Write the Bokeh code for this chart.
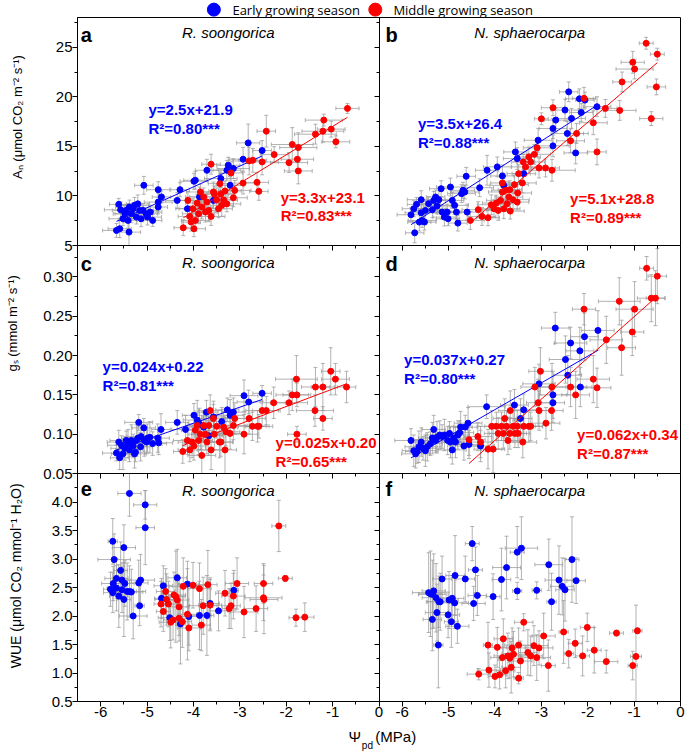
import numpy as np
from bokeh.plotting import figure
from bokeh.models import (ColumnDataSource, Whisker, TeeHead, Range1d, LinearAxis,
                          FixedTicker, NumeralTickFormatter)
from bokeh.layouts import column
from bokeh.embed import file_html
from bokeh.resources import INLINE
from bokeh.core.properties import value

# ---------------- data: (psi_pd, value, x-error, y-error) ----------------
an_rs_early = [
    (-5.66, 6.52, 0.30, 0.7), (-5.59, 6.69, 0.25, 0.9), (-5.61, 9.15, 0.20, 0.6), (-5.57, 8.60, 0.35, 0.8),
    (-5.52, 7.70, 0.30, 0.7), (-5.48, 8.20, 0.25, 0.9), (-5.45, 8.54, 0.30, 0.6), (-5.41, 7.53, 0.20, 0.8),
    (-5.39, 6.35, 0.25, 1.4), (-5.38, 8.88, 0.30, 0.7), (-5.34, 8.20, 0.35, 0.9), (-5.30, 8.70, 0.25, 0.6),
    (-5.27, 9.05, 0.30, 0.8), (-5.23, 7.87, 0.20, 0.7), (-5.20, 9.20, 0.25, 0.9), (-5.16, 8.54, 0.30, 0.6),
    (-5.13, 7.70, 0.25, 0.8), (-5.07, 11.07, 0.20, 0.9), (-5.09, 8.54, 0.30, 0.7), (-5.02, 8.20, 0.25, 0.6),
    (-4.99, 7.87, 0.30, 0.8), (-4.93, 8.37, 0.25, 0.7), (-4.88, 7.53, 0.20, 0.6), (-4.76, 10.63, 0.25, 0.8),
    (-4.76, 8.88, 0.20, 0.7), (-4.76, 9.38, 0.30, 0.9), (-4.69, 9.90, 0.20, 0.6), (-4.35, 9.55, 0.25, 0.8),
    (-4.29, 10.63, 0.20, 0.7), (-4.13, 8.71, 0.25, 0.9), (-3.99, 11.48, 0.30, 0.8), (-3.96, 11.58, 0.25, 0.9),
    (-3.87, 9.90, 0.30, 1.0), (-3.71, 12.59, 0.25, 1.1), (-3.57, 9.55, 0.30, 0.8), (-3.41, 11.75, 0.35, 0.9),
    (-3.28, 12.59, 0.30, 1.0), (-3.25, 13.10, 0.25, 0.8), (-3.21, 11.07, 0.30, 0.9), (-3.14, 12.76, 0.35, 1.0),
    (-2.93, 13.70, 0.30, 1.2), (-2.82, 15.35, 0.25, 1.9), (-2.52, 14.58, 0.20, 1.0),
]
an_rs_middle = [
    (-4.22, 6.79, 0.20, 0.8), (-4.12, 9.55, 0.30, 0.9), (-4.08, 7.93, 0.25, 0.7), (-4.05, 7.36, 0.20, 0.9),
    (-4.01, 8.71, 0.30, 1.0), (-3.99, 6.69, 0.25, 0.8), (-3.96, 7.53, 0.30, 1.1), (-3.92, 9.28, 0.25, 0.9),
    (-3.89, 8.20, 0.35, 1.0), (-3.85, 10.40, 0.30, 0.8), (-3.82, 8.88, 0.25, 1.2), (-3.78, 9.90, 0.30, 0.9),
    (-3.74, 8.37, 0.25, 1.0), (-3.71, 9.38, 0.30, 0.8), (-3.67, 8.54, 0.25, 1.1), (-3.62, 13.20, 0.20, 1.0),
    (-3.62, 7.93, 0.30, 0.9), (-3.57, 10.40, 0.25, 1.0), (-3.55, 10.20, 0.30, 0.8), (-3.50, 9.60, 0.35, 1.2),
    (-3.46, 8.71, 0.30, 0.9), (-3.43, 11.24, 0.25, 1.0), (-3.41, 10.20, 0.30, 0.8), (-3.39, 9.05, 0.25, 1.1),
    (-3.35, 9.60, 0.30, 0.9), (-3.32, 10.50, 0.35, 1.0), (-3.28, 9.20, 0.30, 0.8), (-3.19, 12.32, 0.25, 1.2),
    (-3.14, 9.82, 0.30, 0.9), (-3.11, 10.56, 0.35, 1.0), (-2.93, 11.30, 0.30, 1.1), (-2.80, 13.53, 0.35, 1.4),
    (-2.72, 13.60, 0.30, 1.2), (-2.63, 11.37, 0.25, 1.0), (-2.59, 10.46, 0.20, 0.9), (-2.52, 13.43, 0.35, 1.3),
    (-2.43, 16.53, 0.20, 1.6), (-2.26, 14.17, 0.30, 0.8), (-1.94, 13.36, 0.40, 1.0), (-1.87, 15.19, 0.45, 1.7),
    (-1.76, 13.70, 0.35, 1.2), (-1.74, 14.88, 0.40, 1.5), (-1.74, 12.52, 0.30, 1.3), (-1.37, 16.23, 0.45, 1.0),
    (-1.19, 17.65, 0.40, 0.6), (-1.21, 16.53, 0.45, 1.1), (-1.03, 16.74, 0.30, 0.8), (-0.93, 15.46, 0.30, 0.6),
    (-0.68, 18.83, 0.25, 0.5),
]
an_ns_early = [
    (-5.73, 6.28, 0.20, 1.0), (-5.81, 8.10, 0.30, 0.7), (-5.75, 8.71, 0.25, 0.8), (-5.69, 9.15, 0.20, 0.7),
    (-5.59, 9.62, 0.30, 0.9), (-5.59, 8.30, 0.35, 0.8), (-5.63, 7.36, 0.25, 0.9), (-5.57, 7.53, 0.30, 0.7),
    (-5.52, 7.36, 0.25, 0.8), (-5.50, 8.54, 0.30, 0.9), (-5.43, 9.22, 0.25, 0.7), (-5.35, 8.61, 0.30, 0.8),
    (-5.32, 9.55, 0.25, 0.9), (-5.28, 9.89, 0.20, 0.7), (-5.25, 8.98, 0.30, 0.8), (-5.21, 9.62, 0.25, 0.9),
    (-5.16, 10.73, 0.25, 0.8), (-5.14, 8.37, 0.30, 0.7), (-5.09, 7.87, 0.25, 0.9), (-5.03, 8.37, 0.30, 0.8),
    (-5.01, 7.70, 0.25, 0.7), (-4.96, 10.90, 0.30, 0.9), (-4.92, 9.55, 0.25, 0.8), (-4.87, 9.05, 0.30, 0.9),
    (-4.83, 8.37, 0.25, 0.7), (-4.80, 7.26, 0.20, 0.8), (-4.72, 10.23, 0.30, 0.9), (-4.69, 10.57, 0.25, 0.8),
    (-4.65, 10.40, 0.30, 0.7), (-4.62, 11.98, 0.20, 0.9), (-4.60, 8.37, 0.35, 0.8), (-4.33, 10.83, 0.30, 0.9),
    (-4.17, 12.59, 0.25, 1.5), (-3.95, 12.93, 0.30, 1.0), (-3.84, 12.02, 0.25, 1.1), (-3.81, 11.07, 0.30, 0.9),
    (-3.56, 14.44, 0.25, 1.0), (-3.52, 13.77, 0.30, 1.1), (-3.38, 12.25, 0.25, 1.0), (-3.07, 15.62, 0.30, 1.2),
    (-2.75, 15.05, 0.35, 1.1), (-2.75, 16.80, 0.30, 1.0), (-2.69, 17.65, 0.25, 1.2), (-2.49, 18.66, 0.30, 1.1),
    (-2.41, 20.50, 0.20, 1.0), (-2.44, 16.30, 0.35, 1.2), (-2.35, 17.82, 0.30, 1.0), (-2.26, 14.34, 0.25, 1.1),
    (-2.18, 19.80, 0.30, 1.0), (-2.14, 18.42, 0.25, 0.9), (-2.06, 19.67, 0.20, 0.8), (-1.80, 19.00, 0.30, 1.0),
]
an_ns_middle = [
    (-4.53, 7.53, 0.30, 0.9), (-4.36, 8.61, 0.35, 0.8), (-4.28, 7.93, 0.30, 0.9), (-4.15, 7.80, 0.25, 0.8),
    (-4.08, 9.11, 0.30, 1.0), (-4.02, 8.71, 0.35, 0.9), (-3.97, 9.28, 0.30, 0.8), (-3.93, 8.54, 0.25, 1.0),
    (-3.88, 9.55, 0.30, 0.9), (-3.84, 11.31, 0.25, 1.0), (-3.84, 10.40, 0.30, 0.8), (-3.81, 8.71, 0.35, 1.0),
    (-3.77, 10.57, 0.30, 0.9), (-3.74, 9.22, 0.25, 0.8), (-3.70, 9.89, 0.30, 1.0), (-3.68, 10.63, 0.25, 0.9),
    (-3.67, 8.47, 0.30, 0.8), (-3.61, 9.62, 0.35, 1.0), (-3.58, 11.14, 0.30, 0.9), (-3.52, 9.38, 0.25, 0.8),
    (-3.51, 10.30, 0.30, 1.0), (-3.49, 12.25, 0.25, 0.9), (-3.41, 11.31, 0.30, 1.0), (-3.39, 13.43, 0.25, 0.8),
    (-3.34, 12.93, 0.30, 0.9), (-3.27, 13.94, 0.25, 1.0), (-3.23, 13.43, 0.30, 0.8), (-3.15, 14.20, 0.35, 1.0),
    (-3.09, 14.85, 0.30, 0.9), (-3.05, 12.82, 0.35, 1.0), (-2.91, 12.82, 0.30, 0.9), (-2.77, 12.59, 0.50, 1.1),
    (-2.75, 18.90, 0.25, 0.8), (-3.00, 17.78, 0.15, 0.6), (-2.37, 15.56, 0.30, 1.2), (-2.24, 16.30, 0.25, 1.0),
    (-2.08, 19.85, 0.25, 1.1), (-1.88, 17.38, 0.30, 1.2), (-1.80, 14.44, 0.20, 1.3), (-1.62, 18.83, 0.25, 0.9),
    (-1.31, 18.63, 0.35, 1.0), (-1.26, 21.50, 0.20, 1.0), (-1.03, 23.48, 0.25, 1.1), (-0.99, 22.80, 0.40, 1.0),
    (-0.74, 25.40, 0.15, 0.6), (-0.63, 17.80, 0.25, 0.7), (-0.52, 21.00, 0.20, 0.8), (-0.50, 24.30, 0.15, 0.6),
]
gs_rs_early = [
    (-5.66, 0.076, 0.30, 0.010), (-5.61, 0.090, 0.25, 0.015), (-5.59, 0.070, 0.20, 0.015), (-5.55, 0.086, 0.30, 0.012),
    (-5.52, 0.075, 0.25, 0.020), (-5.48, 0.082, 0.30, 0.015), (-5.45, 0.092, 0.35, 0.012), (-5.41, 0.088, 0.25, 0.018),
    (-5.38, 0.080, 0.30, 0.015), (-5.34, 0.092, 0.25, 0.020), (-5.30, 0.085, 0.30, 0.015), (-5.27, 0.075, 0.25, 0.018),
    (-5.25, 0.077, 0.20, 0.012), (-5.23, 0.092, 0.30, 0.020), (-5.20, 0.095, 0.25, 0.015), (-5.18, 0.115, 0.30, 0.010),
    (-5.14, 0.084, 0.25, 0.018), (-5.13, 0.097, 0.30, 0.015), (-5.07, 0.108, 0.25, 0.012), (-5.06, 0.092, 0.30, 0.020),
    (-5.01, 0.090, 0.25, 0.015), (-4.99, 0.095, 0.30, 0.018), (-4.94, 0.096, 0.25, 0.020), (-4.88, 0.088, 0.30, 0.015),
    (-4.77, 0.095, 0.25, 0.018), (-4.75, 0.089, 0.30, 0.015), (-4.70, 0.106, 0.20, 0.020), (-4.35, 0.115, 0.25, 0.015),
    (-4.17, 0.106, 0.30, 0.018), (-3.99, 0.124, 0.25, 0.015), (-3.92, 0.118, 0.30, 0.025), (-3.87, 0.113, 0.25, 0.020),
    (-3.78, 0.109, 0.30, 0.018), (-3.72, 0.128, 0.25, 0.015), (-3.67, 0.098, 0.30, 0.025), (-3.57, 0.122, 0.25, 0.020),
    (-3.39, 0.116, 0.30, 0.018), (-3.27, 0.131, 0.25, 0.015), (-3.21, 0.124, 0.30, 0.020), (-3.14, 0.128, 0.25, 0.018),
    (-2.91, 0.149, 0.30, 0.020), (-2.81, 0.141, 0.25, 0.015), (-2.52, 0.152, 0.20, 0.010),
]
gs_rs_middle = [
    (-4.23, 0.078, 0.20, 0.015), (-4.13, 0.092, 0.30, 0.018), (-4.08, 0.080, 0.25, 0.015), (-4.03, 0.090, 0.30, 0.020),
    (-3.99, 0.085, 0.25, 0.018), (-3.96, 0.105, 0.30, 0.020), (-3.92, 0.111, 0.25, 0.015), (-3.89, 0.092, 0.30, 0.018),
    (-3.85, 0.100, 0.25, 0.020), (-3.82, 0.073, 0.30, 0.025), (-3.78, 0.111, 0.25, 0.018), (-3.74, 0.100, 0.30, 0.020),
    (-3.71, 0.090, 0.25, 0.015), (-3.67, 0.111, 0.30, 0.018), (-3.64, 0.130, 0.25, 0.020), (-3.62, 0.080, 0.30, 0.025),
    (-3.57, 0.120, 0.25, 0.018), (-3.55, 0.100, 0.30, 0.020), (-3.50, 0.110, 0.25, 0.015), (-3.44, 0.090, 0.30, 0.020),
    (-3.41, 0.090, 0.25, 0.018), (-3.35, 0.109, 0.30, 0.020), (-3.32, 0.080, 0.25, 0.030), (-3.30, 0.103, 0.30, 0.018),
    (-3.21, 0.101, 0.25, 0.020), (-3.14, 0.111, 0.30, 0.018), (-3.11, 0.120, 0.25, 0.020), (-2.91, 0.100, 0.30, 0.025),
    (-2.80, 0.120, 0.35, 0.020), (-2.73, 0.110, 0.30, 0.018), (-2.62, 0.110, 0.25, 0.020), (-2.59, 0.110, 0.30, 0.015),
    (-2.52, 0.130, 0.35, 0.020), (-2.43, 0.130, 0.30, 0.018), (-2.27, 0.140, 0.25, 0.020), (-1.94, 0.140, 0.40, 0.015),
    (-1.87, 0.150, 0.35, 0.020), (-1.78, 0.170, 0.45, 0.030), (-1.77, 0.150, 0.30, 0.015), (-1.77, 0.100, 0.20, 0.010),
    (-1.38, 0.130, 0.40, 0.020), (-1.37, 0.160, 0.30, 0.025), (-1.21, 0.160, 0.25, 0.030), (-1.21, 0.120, 0.20, 0.015),
    (-1.04, 0.180, 0.20, 0.030), (-0.94, 0.170, 0.30, 0.020), (-0.70, 0.160, 0.20, 0.020),
]
gs_ns_early = [
    (-5.81, 0.092, 0.35, 0.015), (-5.75, 0.079, 0.25, 0.020), (-5.71, 0.075, 0.30, 0.018), (-5.68, 0.078, 0.25, 0.015),
    (-5.64, 0.084, 0.30, 0.020), (-5.59, 0.090, 0.25, 0.018), (-5.55, 0.082, 0.30, 0.015), (-5.50, 0.079, 0.25, 0.020),
    (-5.46, 0.084, 0.30, 0.018), (-5.39, 0.088, 0.25, 0.015), (-5.35, 0.095, 0.30, 0.020), (-5.32, 0.106, 0.25, 0.018),
    (-5.28, 0.092, 0.30, 0.015), (-5.25, 0.096, 0.25, 0.020), (-5.19, 0.099, 0.30, 0.018), (-5.14, 0.097, 0.25, 0.015),
    (-5.09, 0.099, 0.30, 0.020), (-5.02, 0.092, 0.25, 0.018), (-4.98, 0.101, 0.30, 0.015), (-4.96, 0.090, 0.25, 0.020),
    (-4.92, 0.080, 0.30, 0.018), (-4.89, 0.095, 0.25, 0.015), (-4.85, 0.090, 0.30, 0.020), (-4.80, 0.099, 0.25, 0.018),
    (-4.76, 0.102, 0.30, 0.015), (-4.74, 0.109, 0.25, 0.020), (-4.67, 0.085, 0.30, 0.018), (-4.64, 0.109, 0.25, 0.015),
    (-4.58, 0.114, 0.30, 0.020), (-4.56, 0.087, 0.25, 0.018), (-4.31, 0.085, 0.30, 0.020), (-4.18, 0.135, 0.40, 0.015),
    (-3.58, 0.137, 0.30, 0.020), (-3.45, 0.120, 0.25, 0.025), (-3.38, 0.131, 0.30, 0.020), (-3.05, 0.164, 0.35, 0.025),
    (-2.75, 0.150, 0.30, 0.030), (-2.75, 0.140, 0.25, 0.025), (-2.70, 0.235, 0.30, 0.020), (-2.48, 0.195, 0.35, 0.030),
    (-2.43, 0.175, 0.30, 0.025), (-2.37, 0.216, 0.35, 0.020), (-2.17, 0.206, 0.30, 0.030), (-2.16, 0.160, 0.25, 0.025),
    (-2.07, 0.224, 0.30, 0.030), (-1.78, 0.232, 0.35, 0.025),
]
gs_ns_middle = [
    (-4.56, 0.093, 0.35, 0.020), (-4.37, 0.097, 0.30, 0.018), (-4.31, 0.090, 0.25, 0.020), (-4.15, 0.081, 0.30, 0.025),
    (-4.04, 0.081, 0.25, 0.030), (-4.07, 0.110, 0.30, 0.020), (-3.97, 0.110, 0.25, 0.018), (-3.93, 0.101, 0.30, 0.020),
    (-3.86, 0.110, 0.25, 0.018), (-3.82, 0.101, 0.30, 0.020), (-3.79, 0.120, 0.25, 0.025), (-3.75, 0.110, 0.30, 0.020),
    (-3.72, 0.092, 0.25, 0.018), (-3.68, 0.101, 0.30, 0.020), (-3.67, 0.130, 0.25, 0.025), (-3.61, 0.110, 0.30, 0.020),
    (-3.57, 0.101, 0.25, 0.018), (-3.52, 0.110, 0.30, 0.020), (-3.50, 0.101, 0.25, 0.018), (-3.40, 0.090, 0.30, 0.020),
    (-3.38, 0.110, 0.25, 0.018), (-3.27, 0.110, 0.30, 0.020), (-3.23, 0.110, 0.25, 0.018), (-3.14, 0.160, 0.30, 0.025),
    (-3.07, 0.140, 0.25, 0.030), (-3.05, 0.130, 0.30, 0.025), (-3.02, 0.180, 0.25, 0.030), (-2.90, 0.114, 0.30, 0.020),
    (-2.78, 0.130, 0.25, 0.025), (-2.77, 0.160, 0.30, 0.030), (-2.37, 0.160, 0.35, 0.025), (-2.26, 0.150, 0.30, 0.030),
    (-2.08, 0.259, 0.25, 0.020), (-1.88, 0.170, 0.35, 0.030), (-1.80, 0.159, 0.30, 0.025), (-1.60, 0.220, 0.35, 0.030),
    (-1.32, 0.269, 0.45, 0.030), (-1.27, 0.210, 0.30, 0.035), (-1.04, 0.230, 0.25, 0.030), (-0.99, 0.259, 0.40, 0.035),
    (-0.73, 0.311, 0.15, 0.015), (-0.63, 0.273, 0.30, 0.030), (-0.54, 0.273, 0.20, 0.035), (-0.50, 0.301, 0.20, 0.035),
]
wue_rs_early = [
    (-5.79, 2.47, 0.15, 0.30), (-5.74, 2.41, 0.20, 0.35), (-5.74, 3.31, 0.10, 0.40), (-5.73, 2.57, 0.25, 0.30),
    (-5.71, 2.99, 0.35, 0.45), (-5.66, 2.66, 0.25, 0.35), (-5.66, 2.49, 0.20, 0.40), (-5.61, 2.35, 0.20, 0.55),
    (-5.57, 2.80, 0.15, 0.50), (-5.54, 2.46, 0.25, 0.40), (-5.54, 2.63, 0.20, 0.30), (-5.50, 3.20, 0.25, 0.40),
    (-5.50, 2.29, 0.15, 0.65), (-5.48, 2.57, 0.20, 0.40), (-5.43, 2.43, 0.20, 0.50), (-5.38, 4.15, 0.25, 0.40),
    (-5.38, 2.43, 0.35, 0.45), (-5.34, 2.42, 0.25, 0.40), (-5.30, 2.00, 0.30, 0.40), (-5.18, 2.58, 0.20, 0.40),
    (-5.16, 2.18, 0.10, 0.35), (-5.14, 2.63, 0.30, 0.45), (-5.04, 3.95, 0.25, 0.25), (-5.04, 3.55, 0.20, 0.65),
    (-4.69, 2.31, 0.15, 0.35), (-4.65, 2.53, 0.20, 0.35), (-4.51, 1.97, 0.25, 0.40), (-4.35, 2.67, 0.20, 0.50),
    (-4.28, 1.86, 0.10, 0.70), (-4.13, 2.56, 0.20, 0.40), (-4.10, 1.99, 0.25, 0.50), (-3.87, 2.01, 0.25, 0.60),
    (-3.71, 2.01, 0.15, 0.70), (-3.64, 2.22, 0.20, 0.45), (-3.46, 2.09, 0.20, 0.35), (-3.13, 2.45, 0.10, 0.35),
]
wue_rs_middle = [
    (-4.70, 2.21, 0.15, 0.40), (-4.65, 2.08, 0.15, 0.35), (-4.60, 2.43, 0.20, 0.40), (-4.58, 2.29, 0.25, 0.45),
    (-4.54, 2.21, 0.20, 0.40), (-4.49, 1.89, 0.25, 0.45), (-4.44, 1.93, 0.20, 0.35), (-4.42, 2.37, 0.25, 0.40),
    (-4.38, 2.34, 0.20, 0.80), (-4.35, 2.28, 0.25, 0.45), (-4.31, 2.16, 0.20, 0.50), (-4.31, 1.96, 0.25, 0.40),
    (-4.24, 1.90, 0.20, 0.45), (-4.22, 2.52, 0.30, 0.50), (-4.13, 2.03, 0.20, 0.80), (-4.10, 1.79, 0.25, 0.40),
    (-4.01, 2.54, 0.30, 0.40), (-3.87, 2.48, 0.25, 0.45), (-3.83, 1.84, 0.20, 0.45), (-3.79, 2.18, 0.30, 0.50),
    (-3.69, 2.55, 0.20, 0.60), (-3.64, 2.19, 0.25, 0.45), (-3.32, 2.40, 0.20, 0.40), (-3.23, 2.13, 0.15, 0.35),
    (-3.19, 2.18, 0.20, 0.40), (-3.14, 2.35, 0.25, 0.40), (-3.06, 2.57, 0.25, 0.45), (-2.91, 2.07, 0.30, 0.45),
    (-2.65, 2.13, 0.25, 0.40), (-2.49, 2.57, 0.20, 0.35), (-2.49, 2.32, 0.40, 0.40), (-2.48, 2.29, 0.30, 0.60),
    (-2.16, 3.58, 0.15, 0.45), (-2.02, 2.66, 0.15, 0.05), (-1.79, 1.97, 0.15, 0.15), (-1.60, 1.98, 0.20, 0.25),
]
wue_ns_early = [
    (-5.43, 2.41, 0.35, 0.70), (-5.39, 2.39, 0.25, 0.75), (-5.35, 2.38, 0.30, 0.60), (-5.32, 2.44, 0.25, 0.65),
    (-5.35, 1.94, 0.20, 0.55), (-5.27, 2.32, 0.30, 0.60), (-5.25, 2.06, 0.25, 0.50), (-5.22, 1.49, 0.10, 0.75),
    (-5.21, 2.25, 0.25, 0.45), (-5.18, 2.25, 0.30, 0.50), (-5.14, 2.65, 0.20, 0.40), (-5.01, 2.02, 0.25, 0.40),
    (-4.99, 2.28, 0.20, 0.50), (-4.94, 1.90, 0.15, 0.45), (-4.92, 2.31, 0.25, 0.40), (-4.87, 2.23, 0.30, 0.45),
    (-4.86, 2.71, 0.20, 0.70), (-4.81, 1.82, 0.25, 0.30), (-4.64, 2.65, 0.20, 0.40), (-4.49, 3.27, 0.15, 0.30),
    (-4.46, 2.22, 0.25, 0.30), (-4.42, 2.81, 0.15, 0.40), (-4.38, 2.36, 0.20, 0.35), (-4.04, 2.34, 0.15, 0.40),
    (-3.86, 2.64, 0.20, 0.55), (-3.75, 2.85, 0.30, 0.55), (-3.52, 3.12, 0.15, 0.45), (-3.52, 2.44, 0.10, 0.15),
    (-3.43, 3.19, 0.35, 0.55), (-3.10, 2.45, 0.10, 0.15), (-2.84, 2.90, 0.30, 0.45), (-2.78, 2.25, 0.10, 0.50),
    (-2.62, 2.63, 0.30, 0.60), (-2.55, 2.52, 0.25, 0.50), (-2.49, 2.46, 0.20, 0.55), (-2.34, 2.99, 0.15, 0.75),
    (-2.25, 2.62, 0.20, 0.40),
]
wue_ns_middle = [
    (-4.35, 0.98, 0.25, 0.10), (-4.15, 1.49, 0.10, 0.40), (-4.13, 1.05, 0.25, 0.30), (-4.00, 0.94, 0.15, 0.20),
    (-3.95, 1.45, 0.20, 0.35), (-3.90, 0.97, 0.15, 0.25), (-3.84, 1.27, 0.25, 0.30), (-3.82, 1.60, 0.20, 0.35),
    (-3.77, 1.04, 0.20, 0.30), (-3.72, 1.30, 0.30, 0.40), (-3.68, 1.26, 0.25, 0.35), (-3.65, 1.10, 0.20, 0.45),
    (-3.63, 1.44, 0.30, 0.35), (-3.60, 1.33, 0.25, 0.40), (-3.49, 1.49, 0.30, 0.30), (-3.49, 0.91, 0.10, 0.10),
    (-3.45, 1.21, 0.25, 0.35), (-3.38, 1.89, 0.20, 0.15), (-3.29, 1.36, 0.20, 0.40), (-3.23, 1.30, 0.25, 0.35),
    (-3.16, 1.48, 0.30, 0.35), (-3.10, 1.27, 0.30, 0.40), (-3.05, 1.44, 0.30, 0.30), (-2.95, 1.65, 0.25, 0.40),
    (-2.85, 1.13, 0.15, 0.45), (-2.52, 1.72, 0.10, 0.55), (-2.41, 1.34, 0.10, 0.25), (-2.27, 1.52, 0.15, 0.25),
    (-2.11, 1.30, 0.15, 0.35), (-2.01, 1.80, 0.15, 0.25), (-1.86, 1.40, 0.15, 0.40), (-1.60, 1.20, 0.25, 0.20),
    (-1.38, 1.70, 0.15, 0.05), (-1.03, 1.13, 0.10, 0.25), (-0.96, 1.29, 0.12, 0.90), (-0.93, 1.74, 0.10, 0.05),
]

species = ["R. soongorica", "N. sphaerocarpa"]
panel_letters = ["a", "b", "c", "d", "e", "f"]
season_labels = ["Early growing season", "Middle growing season"]
y_titles = ["Aₙ (μmol CO₂ m⁻² s⁻¹)", "gₛ (mmol m⁻² s⁻¹)", "WUE (μmol CO₂ mmol⁻¹ H₂O)"]
x_ticks = [-6, -5, -4, -3, -2, -1, 0]
y_ticks_an = [5, 10, 15, 20, 25]
y_ticks_gs = [0.05, 0.10, 0.15, 0.20, 0.25, 0.30]
y_ticks_wue = [0.5, 1.0, 1.5, 2.0, 2.5, 3.0, 3.5, 4.0]
eq_an = [("y=2.5x+21.9", "R²=0.80***"), ("y=3.3x+23.1", "R²=0.83***"),
         ("y=3.5x+26.4", "R²=0.88***"), ("y=5.1x+28.8", "R²=0.89***")]
eq_gs = [("y=0.024x+0.22", "R²=0.81***"), ("y=0.025x+0.20", "R²=0.65***"),
         ("y=0.037x+0.27", "R²=0.80***"), ("y=0.062x+0.34", "R²=0.87***")]

# ---------------- styling ----------------
BLUE = "#0000ff"
RED = "#ff0000"
GRAY = "#999999"
FONT = "Liberation Sans"
PANEL_W = 6.5            # width of one panel in MPa (-6.5 .. 0)
FRAME_W, FRAME_H = 603, 228
LEFT, RIGHT = 77, 5
OVER = 8                 # rows overlap so boundary tick labels are not cut
NB = "\u00a0"            # padding that moves the rotated y titles upward

x_major = x_ticks + [t + PANEL_W for t in x_ticks]
x_minor_one = [t - 0.5 for t in x_ticks[1:]]
x_minor = x_minor_one + [t + PANEL_W for t in x_minor_one]
x_overrides = {t: str(t) for t in x_ticks}
x_overrides.update({t + PANEL_W: str(t) for t in x_ticks})


def add_series(p, rows, color, rname, fit=True):
    arr = np.array(rows, dtype=float)
    x, y, xe, ye = arr.T
    src = ColumnDataSource(dict(x=x, y=y, xl=x - xe, xu=x + xe, yl=y - ye, yu=y + ye))
    for dim, base, lo, hi in (("height", "x", "yl", "yu"), ("width", "y", "xl", "xu")):
        w = Whisker(source=src, base=base, lower=lo, upper=hi, dimension=dim,
                    line_color=GRAY, line_width=1, line_alpha=0.75,
                    upper_head=TeeHead(size=4, line_color=GRAY, line_alpha=0.75, line_width=1),
                    lower_head=TeeHead(size=4, line_color=GRAY, line_alpha=0.75, line_width=1))
        w.x_range_name = rname
        p.add_layout(w)
    p.scatter("x", "y", source=src, size=6, fill_color=color, line_color=color, x_range_name=rname)
    if fit:
        k, b = np.polyfit(x, y, 1)
        xs = np.array([x.min(), x.max()])
        p.line(xs, k * xs + b, line_color=color, line_width=1, x_range_name=rname)


def strip(height):
    s = figure(frame_width=FRAME_W, frame_height=height, x_range=Range1d(-PANEL_W, PANEL_W),
               y_range=Range1d(0, 1), x_axis_location=None, y_axis_location=None,
               toolbar_location=None, output_backend="svg",
               min_border_left=LEFT, min_border_right=RIGHT, min_border_top=0, min_border_bottom=0)
    s.grid.visible = False
    s.outline_line_color = None
    return s


def make_row(yr, major, fmt, ylabel, standoff, title_size, top, bottom, overlap, is_first, is_last):
    p = figure(frame_width=FRAME_W, frame_height=FRAME_H,
               x_range=Range1d(-PANEL_W, PANEL_W), y_range=Range1d(*yr),
               x_axis_location=None, y_axis_location=None,
               toolbar_location=None, output_backend="svg",
               min_border_left=LEFT, min_border_right=RIGHT,
               min_border_top=top, min_border_bottom=bottom,
               margin=(-overlap, 0, 0, 0))
    p.extra_x_ranges = {"R": Range1d(-2 * PANEL_W, 0)}
    p.grid.visible = False
    p.outline_line_color = "black"
    p.outline_line_width = 1
    p.outline_line_alpha = 1
    p.background_fill_color = "white"
    p.border_fill_color = "white"
    p.border_fill_alpha = 0

    step = major[1] - major[0]
    minor = [m + step / 2 for m in major]
    ax = LinearAxis(ticker=FixedTicker(ticks=major, minor_ticks=minor), formatter=fmt,
                    axis_label=ylabel, axis_label_standoff=standoff,
                    axis_label_text_font=FONT, axis_label_text_font_size=title_size,
                    axis_label_text_font_style="normal", axis_label_text_color="black",
                    major_label_text_font=FONT, major_label_text_font_size="15px",
                    major_label_text_color="black", major_label_standoff=0,
                    major_tick_out=5, major_tick_in=0, minor_tick_out=3, minor_tick_in=0,
                    axis_line_color="black", major_tick_line_color="black",
                    minor_tick_line_color="black")
    p.add_layout(ax, "left")
    div = LinearAxis(ticker=FixedTicker(ticks=major, minor_ticks=minor), fixed_location=0,
                     major_label_text_alpha=0, major_tick_out=5, major_tick_in=0,
                     minor_tick_out=3, minor_tick_in=0, axis_line_color="black",
                     major_tick_line_color="black", minor_tick_line_color="black")
    p.add_layout(div, "left")
    if not is_first:
        tx = LinearAxis(ticker=FixedTicker(ticks=x_major, minor_ticks=x_minor), fixed_location=yr[1],
                        major_label_text_alpha=0, major_tick_in=5, major_tick_out=0,
                        minor_tick_in=3, minor_tick_out=0, axis_line_color="black",
                        major_tick_line_color="black", minor_tick_line_color="black")
        p.add_layout(tx, "above")
    if is_last:
        bx = LinearAxis(ticker=FixedTicker(ticks=x_major, minor_ticks=x_minor),
                        major_label_overrides=x_overrides,
                        major_label_text_font=FONT, major_label_text_font_size="15px",
                        major_label_text_color="black", major_label_standoff=0,
                        major_tick_out=5, major_tick_in=0, minor_tick_out=3, minor_tick_in=0,
                        axis_line_color="black", major_tick_line_color="black",
                        minor_tick_line_color="black")
        p.add_layout(bx, "below")
    return p


def panel_text(p, rname, letter, name, y_letter, y_name):
    p.text(x=[-6.43 if rname == "default" else -6.36], y=[y_letter], text=[letter],
           x_range_name=rname, text_font=value(FONT), text_font_size="20px",
           text_font_style="bold", text_color="black", text_align="left", text_baseline="middle")
    p.text(x=[-3.25], y=[y_name], text=[name], x_range_name=rname, text_font=value(FONT),
           text_font_size="15px", text_font_style="italic", text_color="black",
           text_align="center", text_baseline="middle")


def eq_text(p, rname, x, y1, y2, lines, color):
    p.text(x=[x, x], y=[y1, y2], text=list(lines), x_range_name=rname, text_font=value(FONT),
           text_font_size="15px", text_font_style="bold", text_color=color,
           text_align="left", text_baseline="middle")


# ---------------- legend strip ----------------
leg = strip(19)
leg.scatter(x=[-3.56, -0.08], y=[0.52, 0.52], size=13, fill_color=[BLUE, RED], line_color=[BLUE, RED])
leg.text(x=[-3.16, 0.31], y=[0.52, 0.52], text=season_labels, text_font=value("Open Sans"),
         text_font_size="13px", text_color="black", text_align="left", text_baseline="middle")

# ---------------- row 1: An ----------------
p1 = make_row((5, 28), y_ticks_an, NumeralTickFormatter(format="0"),
              NB * 8 + y_titles[0], 28, "13px", 2, OVER, 4, True, False)
add_series(p1, an_rs_early, BLUE, "default")
add_series(p1, an_rs_middle, RED, "default")
add_series(p1, an_ns_early, BLUE, "R")
add_series(p1, an_ns_middle, RED, "R")
panel_text(p1, "default", panel_letters[0], species[0], 26.25, 26.5)
panel_text(p1, "R", panel_letters[1], species[1], 26.25, 26.5)
eq_text(p1, "default", -4.97, 18.7, 16.8, eq_an[0], BLUE)
eq_text(p1, "default", -2.12, 9.8, 8.0, eq_an[1], RED)
eq_text(p1, "R", -5.66, 17.3, 15.4, eq_an[2], BLUE)
eq_text(p1, "R", -2.38, 9.75, 7.85, eq_an[3], RED)

# ---------------- row 2: gs ----------------
p2 = make_row((0.05, 0.34), y_ticks_gs, NumeralTickFormatter(format="0.00"),
              NB * 20 + y_titles[1], 20, "13px", OVER, OVER, 2 * OVER, False, False)
add_series(p2, gs_rs_early, BLUE, "default")
add_series(p2, gs_rs_middle, RED, "default")
add_series(p2, gs_ns_early, BLUE, "R")
add_series(p2, gs_ns_middle, RED, "R")
panel_text(p2, "default", panel_letters[2], species[0], 0.317, 0.318)
panel_text(p2, "R", panel_letters[3], species[1], 0.317, 0.318)
eq_text(p2, "default", -5.96, 0.186, 0.162, eq_gs[0], BLUE)
eq_text(p2, "default", -2.23, 0.0896, 0.0656, eq_gs[1], RED)
eq_text(p2, "R", -5.96, 0.1947, 0.1706, eq_gs[2], BLUE)
eq_text(p2, "R", -2.23, 0.0997, 0.0757, eq_gs[3], RED)

# ---------------- row 3: WUE ----------------
p3 = make_row((0.5, 4.5), y_ticks_wue, NumeralTickFormatter(format="0.0"),
              NB * 6 + y_titles[2], 25, "14px", OVER, 26, 2 * OVER, False, True)
add_series(p3, wue_rs_early, BLUE, "default", fit=False)
add_series(p3, wue_rs_middle, RED, "default", fit=False)
add_series(p3, wue_ns_early, BLUE, "R", fit=False)
add_series(p3, wue_ns_middle, RED, "R", fit=False)
panel_text(p3, "default", panel_letters[4], species[0], 4.22, 4.2)
panel_text(p3, "R", panel_letters[5], species[1], 4.22, 4.2)

# ---------------- x-axis title strip: Ψpd (MPa) ----------------
ttl = strip(24)
ttl.text(x=[-0.66, -0.08], y=[0.62, 0.62], text=["Ψ", "(MPa)"], text_font=value(FONT),
         text_font_size="15px", text_color="black", text_align="left", text_baseline="middle")
ttl.text(x=[-0.37], y=[0.24], text=["pd"], text_font=value(FONT),
         text_font_size="10px", text_color="black", text_align="left", text_baseline="middle")

layout = column(leg, p1, p2, p3, ttl, spacing=0)
open("out.html", "w").write(file_html(layout, INLINE))
